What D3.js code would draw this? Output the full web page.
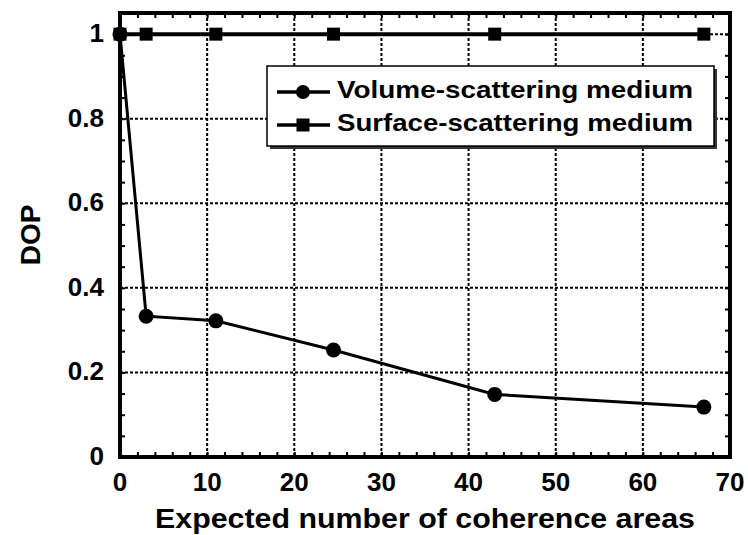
<!DOCTYPE html>
<html>
<head>
<meta charset="utf-8">
<script src="https://cdn.jsdelivr.net/npm/d3@7"></script>
<style>
  html, body { margin: 0; padding: 0; background: #fff; }
  svg { display: block; font-family: "Liberation Sans", Arial, sans-serif; font-weight: bold; }
</style>
</head>
<body>
<svg id="chart" width="748" height="535"></svg>
<script>
// Expected number of coherence areas (x) and degree of polarization (y)
const coherenceAreas = [0, 3, 11, 24.5, 43, 67];
const volumeDOP = [1, 0.333, 0.322, 0.253, 0.148, 0.118];
const surfaceDOP = [1, 1, 1, 1, 1, 1];
const seriesNames = ["Volume-scattering medium", "Surface-scattering medium"];
const xTicks = [0, 10, 20, 30, 40, 50, 60, 70];
const yTicks = [0, 0.2, 0.4, 0.6, 0.8, 1];
const yTickLabels = ["0", "0.2", "0.4", "0.6", "0.8", "1"];
const xTitle = "Expected number of coherence areas";
const yTitle = "DOP";

const svg = d3.select("#chart");
const m = { left: 120, right: 730, top: 13, bottom: 457 };

const x = d3.scaleLinear().domain([0, 70]).range([m.left, m.right]);
const y = d3.scaleLinear().domain([0, 1.05]).range([m.bottom, m.top]);

const plot = svg.append("g");

// dotted grid at major ticks
plot.selectAll("line.gx").data(xTicks.slice(1, -1)).join("line")
  .attr("x1", d => x(d)).attr("x2", d => x(d))
  .attr("y1", m.top).attr("y2", m.bottom)
  .attr("stroke", "#000").attr("stroke-width", 2).attr("stroke-dasharray", "3,2");
plot.selectAll("line.gy").data(yTicks.slice(1)).join("line")
  .attr("x1", m.left).attr("x2", m.right)
  .attr("y1", d => y(d)).attr("y2", d => y(d))
  .attr("stroke", "#000").attr("stroke-width", 2).attr("stroke-dasharray", "3,2");

// inward minor ticks on all four sides
const xMinor = d3.range(0, 70.001, 2);
const yMinor = d3.range(0, 1.0501, 0.05);
const tickLen = 5;
const axB = d3.axisBottom(x).tickValues(xMinor).tickSize(-tickLen).tickFormat("");
const axT = d3.axisTop(x).tickValues(xMinor).tickSize(-tickLen).tickFormat("");
const axL = d3.axisLeft(y).tickValues(yMinor).tickSize(-tickLen).tickFormat("");
const axR = d3.axisRight(y).tickValues(yMinor).tickSize(-tickLen).tickFormat("");
[[axB, `translate(0,${m.bottom})`], [axT, `translate(0,${m.top})`],
 [axL, `translate(${m.left},0)`], [axR, `translate(${m.right},0)`]].forEach(([ax, t]) => {
  const g = plot.append("g").attr("transform", t).call(ax);
  g.select(".domain").remove();
  g.selectAll(".tick line").attr("stroke", "#000").attr("stroke-width", 2);
});

// frame
plot.append("rect")
  .attr("x", m.left).attr("y", m.top)
  .attr("width", m.right - m.left).attr("height", m.bottom - m.top)
  .attr("fill", "none").attr("stroke", "#000").attr("stroke-width", 4);

// tick labels
svg.append("g").selectAll("text").data(xTicks).join("text")
  .attr("x", d => x(d)).attr("y", 491)
  .attr("text-anchor", "middle").attr("font-size", 26).text(d => d);
svg.append("g").selectAll("text").data(yTicks).join("text")
  .attr("x", 104).attr("y", d => y(d) + 8)
  .attr("text-anchor", "end").attr("font-size", 26).text((d, i) => yTickLabels[i]);

// axis titles
svg.append("text").attr("x", (m.left + m.right) / 2).attr("y", 528)
  .attr("text-anchor", "middle").attr("font-size", 28)
  .attr("textLength", 540).attr("lengthAdjust", "spacingAndGlyphs").text(xTitle);
svg.append("text")
  .attr("transform", `translate(40,${(m.top + m.bottom) / 2}) rotate(-90)`)
  .attr("text-anchor", "middle").attr("font-size", 28).text(yTitle);

// series
const line = d3.line().x(d => x(d[0])).y(d => y(d[1]));
const volPts = coherenceAreas.map((c, i) => [c, volumeDOP[i]]);
const surfPts = coherenceAreas.map((c, i) => [c, surfaceDOP[i]]);

plot.append("path").attr("d", line(surfPts))
  .attr("fill", "none").attr("stroke", "#000").attr("stroke-width", 4);
plot.append("path").attr("d", line(volPts))
  .attr("fill", "none").attr("stroke", "#000").attr("stroke-width", 3);

const sq = 13;
plot.selectAll("rect.sq").data(surfPts).join("rect")
  .attr("x", d => x(d[0]) - sq / 2).attr("y", d => y(d[1]) - sq / 2)
  .attr("width", sq).attr("height", sq).attr("fill", "#000");
plot.selectAll("circle.pt").data(volPts).join("circle")
  .attr("cx", d => x(d[0])).attr("cy", d => y(d[1])).attr("r", 7.5).attr("fill", "#000");

// legend
const lg = svg.append("g");
const lx = 267, ly = 66, lw = 447, lh = 80;
lg.append("rect").attr("x", lx + 3).attr("y", ly + 3).attr("width", lw).attr("height", lh).attr("fill", "#333");
lg.append("rect").attr("x", lx).attr("y", ly).attr("width", lw).attr("height", lh)
  .attr("fill", "#fff").attr("stroke", "#000").attr("stroke-width", 1.5);
const rows = [92, 125];
rows.forEach((ry, i) => {
  lg.append("line").attr("x1", 277).attr("x2", 330).attr("y1", ry).attr("y2", ry)
    .attr("stroke", "#000").attr("stroke-width", 3.5);
  if (i === 0) {
    lg.append("circle").attr("cx", 303).attr("cy", ry).attr("r", 7).attr("fill", "#000");
  } else {
    lg.append("rect").attr("x", 303 - 6.5).attr("y", ry - 6.5).attr("width", 13).attr("height", 13).attr("fill", "#000");
  }
  lg.append("text").attr("x", 337).attr("y", ry + 5.5).attr("font-size", 24)
    .attr("textLength", 356).attr("lengthAdjust", "spacingAndGlyphs").text(seriesNames[i]);
});
</script>
</body>
</html>
